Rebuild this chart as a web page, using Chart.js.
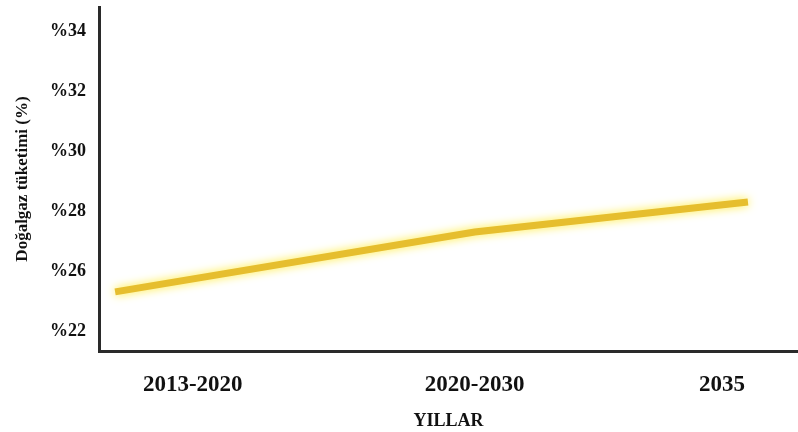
<!DOCTYPE html>
<html>
<head>
<meta charset="utf-8">
<script src="https://cdn.jsdelivr.net/npm/chart.js@4/dist/chart.umd.min.js"></script>
<style>
  html, body { margin: 0; padding: 0; background: #fff; }
  #wrap { width: 798px; height: 432px; }
</style>
</head>
<body>
<div id="wrap"><canvas id="gasChart"></canvas></div>
<script>
// chart data
const categories = ["2013-2020", "2020-2030", "2035"];
const categoryYears = [2015.7, 2025.5, 2034.1];   // where each category label sits on the year axis
const pointYears = [2013, 2025.5, 2035];
const consumption = [25.3, 27.3, 28.3];
const yTickValues = [24, 26, 28, 30, 32, 34];
const yTickLabels = ["%22", "%26", "%28", "%30", "%32", "%34"];

const serif = "'Liberation Serif', 'Times New Roman', serif";

// yellow glow behind the line
const glowPlugin = {
  id: "glow",
  beforeDatasetDraw(chart) {
    const ctx = chart.ctx;
    ctx.save();
    ctx.shadowColor = "rgba(255, 236, 60, 1)";
    ctx.shadowBlur = 10;
  },
  afterDatasetDraw(chart) {
    chart.ctx.restore();
  }
};

new Chart(document.getElementById("gasChart"), {
  type: "line",
  data: {
    datasets: [
      {
        data: pointYears.map((x, i) => ({ x: x, y: consumption[i] })),
        borderColor: "#e6be2e",
        borderWidth: 7,
        pointRadius: 0,
        tension: 0,
        fill: false
      }
    ]
  },
  options: {
    responsive: true,
    maintainAspectRatio: false,
    animation: false,
    layout: { padding: { top: 7, left: 0, right: 0, bottom: 0 } },
    plugins: {
      legend: { display: false },
      tooltip: { enabled: false }
    },
    scales: {
      x: {
        type: "linear",
        min: 2012.44,
        max: 2036.74,
        grid: { display: false },
        border: { display: true, color: "#2a2a2a", width: 3 },
        afterFit: (scale) => {
          scale.height = 81;
          scale.paddingLeft = 0;
          scale.paddingRight = 0;
        },
        afterBuildTicks: (scale) => {
          scale.ticks = categoryYears.map((v) => ({ value: v }));
        },
        ticks: {
          padding: 12,
          maxRotation: 0,
          autoSkip: false,
          color: "#111",
          font: { family: serif, size: 23, weight: "bold" },
          callback: (v) => {
            const i = categoryYears.indexOf(v);
            return i >= 0 ? categories[i] : "";
          }
        },
        title: {
          display: true,
          text: "YILLAR",
          color: "#111",
          padding: { top: 0, bottom: 0 },
          font: { family: serif, size: 18, weight: "bold" }
        }
      },
      y: {
        min: 23.33,
        max: 34.8,
        grid: { display: false },
        border: { display: true, color: "#2a2a2a", width: 3 },
        afterFit: (scale) => {
          scale.width = 99;
          scale.paddingTop = 0;
          scale.paddingBottom = 0;
        },
        afterBuildTicks: (scale) => {
          scale.ticks = yTickValues.map((v) => ({ value: v }));
        },
        ticks: {
          padding: 5,
          color: "#111",
          font: { family: serif, size: 18, weight: "bold" },
          callback: (v) => {
            const i = yTickValues.indexOf(v);
            return i >= 0 ? yTickLabels[i] : "";
          }
        },
        title: {
          display: true,
          text: "Doğalgaz tüketimi (%)",
          color: "#111",
          padding: { top: 12, bottom: 0 },
          font: { family: serif, size: 17, weight: "bold" }
        }
      }
    }
  },
  plugins: [glowPlugin]
});
</script>
</body>
</html>
